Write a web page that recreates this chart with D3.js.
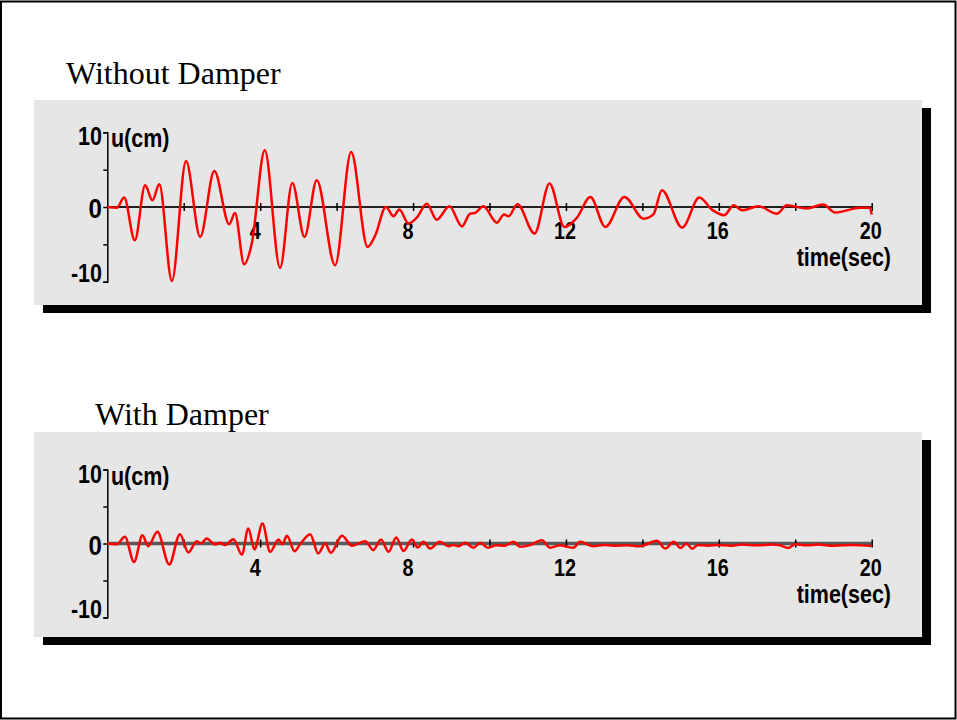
<!DOCTYPE html>
<html>
<head>
<meta charset="utf-8">
<script src="https://cdn.jsdelivr.net/npm/d3@7"></script>
<style>
  body { margin: 0; background: #fff; }
  svg { display: block; }
</style>
</head>
<body>
<div id="chart"></div>
<script>
// response without damper
const timeTop = [0, 0.25, 0.44, 0.72, 0.99, 1.18, 1.36, 1.69, 2.06, 2.43, 2.80, 3.19, 3.34, 3.58, 3.78,
  4.12, 4.52, 4.84, 5.16, 5.48, 5.96, 6.38, 6.81, 7.01, 7.29, 7.49, 7.64, 7.88, 8.10, 8.36, 8.62,
  8.95, 9.28, 9.49, 9.62, 9.84, 10.19, 10.38, 10.50, 10.73, 11.18, 11.57, 11.96, 12.29, 12.64,
  13.03, 13.53, 14.03, 14.29, 14.51, 15.04, 15.49, 15.82, 16.14, 16.39, 16.61, 17.04, 17.52,
  17.78, 18.30, 18.73, 19.05, 19.70, 19.95, 20.0];
const dispTop = [0, -0.1, 1.26, -4.46, 2.9, 0.9, 3.04, -9.9, 6.16, -4.0, 4.82, -2.3, -0.8, -7.67, -4.9,
  7.59, -8.16, 3.2, -4.0, 3.57, -7.8, 7.36, -5.35, -3.8, 0, -1.24, -0.35, -2.2, -1.4, 0.45, -1.7,
  0.1, -2.6, -0.9, -0.8, 0.1, -2.1, -1.0, -1.25, 0.36, -3.56, 3.13, -2.68, -1.42, 1.34,
  -2.68, 1.34, -1.56, -0.98, 2.24, -2.76, 1.26, -0.35, -1.1, 0.23, -0.44, 0.1, -0.9,
  0.23, -0.2, 0.32, -0.75, -0.1, -0.1, -1.0];

// response with damper
const timeBottom = [0, 0.25, 0.46, 0.70, 0.92, 1.07, 1.31, 1.62, 1.90, 2.12, 2.34, 2.45, 2.60, 2.82, 2.95,
  3.08, 3.30, 3.52, 3.69, 3.85, 4.06, 4.26, 4.48, 4.58, 4.70, 4.90, 5.04, 5.31, 5.52, 5.70, 5.85,
  6.14, 6.40, 6.75, 6.96, 7.16, 7.36, 7.56, 7.75, 7.97, 8.12, 8.27, 8.45, 8.69, 8.93, 9.05, 9.19,
  9.36, 9.58, 9.76, 9.96, 10.19, 10.40, 10.63, 10.80, 11.06, 11.37, 11.59, 11.85, 12.00, 12.20,
  12.37, 12.72, 13.00, 13.25, 13.60, 13.94, 14.38, 14.60, 14.82, 15.0, 15.15, 15.3, 15.45, 15.7,
  16.0, 16.3, 16.6, 17.0, 17.4, 17.6, 17.82, 18.0, 18.3, 18.6, 19.0, 19.5, 20.0];
const dispBottom = [0, -0.1, 0.9, -2.5, 1.13, -0.36, 1.58, -2.84, 1.26, -1.2, 0.3, 0, 0.68, -0.14, 0.1,
  -0.2, 0.59, -1.5, 2.03, -0.8, 2.7, -1.13, 0.54, -0.1, 1.04, -1.04, -0.14, 1.26, -1.35, 0.0, -1.26,
  1.04, -0.3, 0.3, -0.9, 0.54, -1.13, 0.81, -1.0, 0.54, -0.54, 0.22, -0.68, 0.22, -0.36, -0.2, -0.36,
  0.1, -0.58, 0.1, -0.58, -0.22, -0.3, 0.22, -0.45, -0.22, 0.45, -0.58, -0.22, -0.4, -0.58,
  0.22, -0.36, -0.2, -0.3, -0.22, -0.36, 0.36, -0.68, 0.22, -0.6, 0.0, -0.7, -0.2, -0.3,
  -0.2, -0.3, -0.15, -0.25, -0.15, -0.25, -0.6, -0.1, -0.25, -0.15, -0.3, -0.2, -0.35];

const xMinorTicks = [2, 4, 6, 8, 10, 12, 14, 16, 18, 20];
const xTickLabels = [4, 8, 12, 16, 20];
const yTicks = [-10, -5, 0, 5, 10];
const yTickLabels = [10, 0, -10];

const width = 957, height = 720;

const svg = d3.select("#chart")
  .append("svg")
  .attr("width", width)
  .attr("height", height);

// page frame
svg.append("rect")
  .attr("x", 1).attr("y", 1.5)
  .attr("width", width - 2.5).attr("height", height - 3)
  .attr("fill", "none")
  .attr("stroke", "#000")
  .attr("stroke-width", 2);

const sans = "'Liberation Sans', Arial, sans-serif";
const squeeze = "scale(0.86,1)";

function drawPanel(opt) {
  const g = svg.append("g");

  // drop shadow + grey box
  g.append("rect")
    .attr("x", opt.boxX + 9).attr("y", opt.boxY + 8)
    .attr("width", 888).attr("height", 205)
    .attr("fill", "#000");
  g.append("rect")
    .attr("x", opt.boxX).attr("y", opt.boxY)
    .attr("width", 888).attr("height", 205)
    .attr("fill", "#e6e6e6");

  // title
  svg.append("text")
    .attr("x", opt.titleX).attr("y", opt.titleY)
    .attr("font-family", "'Liberation Serif', 'Times New Roman', serif")
    .attr("font-size", 32)
    .attr("fill", "#000")
    .text(opt.title);

  const x = d3.scaleLinear().domain([0, 20]).range([107.3, 871.7]);
  const y = d3.scaleLinear().domain([-10, 10]).range(opt.yRange);
  const zero = y(0);

  // y axis, bracket shape comes from the outer ticks
  const yAxis = g.append("g")
    .attr("transform", `translate(${x(0)},0)`)
    .call(d3.axisLeft(y).tickValues(yTicks).tickSize(4).tickSizeOuter(4).tickFormat(""));
  yAxis.select(".domain").attr("stroke", "#000").attr("stroke-width", 1.5);
  yAxis.selectAll(".tick line").attr("stroke", "#000").attr("stroke-width", 1.5);

  // zero line
  g.append("line")
    .attr("x1", x(0)).attr("x2", x(20))
    .attr("y1", zero).attr("y2", zero)
    .attr("stroke", opt.zeroColor)
    .attr("stroke-width", opt.zeroWidth);

  // small ticks crossing the time axis
  const xAxis = g.append("g")
    .attr("transform", `translate(0,${zero - 4})`)
    .call(d3.axisBottom(x).tickValues(xMinorTicks).tickSize(8).tickFormat(""));
  xAxis.select(".domain").remove();
  xAxis.selectAll(".tick line").attr("stroke", "#000").attr("stroke-width", 1.5);

  // time labels
  g.selectAll(".xlab")
    .data(xTickLabels)
    .enter()
    .append("text")
    .attr("class", "xlab")
    .attr("transform", (d) => `translate(${x(d) - (d < 10 ? 5 : 1)},${zero + 32}) ${squeeze}`)
    .attr("text-anchor", "middle")
    .attr("font-family", sans)
    .attr("font-weight", "bold")
    .attr("font-size", 23)
    .text((d) => d);

  // displacement labels
  g.selectAll(".ylab")
    .data(yTickLabels)
    .enter()
    .append("text")
    .attr("class", "ylab")
    .attr("transform", (d) => {
      const dy = d === 10 ? 13 : d === 0 ? 11 : 0;
      return `translate(102,${y(d) + dy}) ${squeeze}`;
    })
    .attr("text-anchor", "end")
    .attr("font-family", sans)
    .attr("font-weight", "bold")
    .attr("font-size", (d) => (d === 0 ? 28 : 25))
    .text((d) => d);

  g.append("text")
    .attr("transform", `translate(111,${y(10) + 15}) ${squeeze}`)
    .attr("font-family", sans)
    .attr("font-weight", "bold")
    .attr("font-size", 25)
    .text("u(cm)");

  g.append("text")
    .attr("transform", `translate(891,${zero + 59}) ${squeeze}`)
    .attr("text-anchor", "end")
    .attr("font-family", sans)
    .attr("font-weight", "bold")
    .attr("font-size", 25)
    .text("time(sec)");

  const line = d3.line()
    .x((d) => x(d[0]))
    .y((d) => y(d[1]))
    .curve(d3.curveMonotoneX);

  g.append("path")
    .datum(d3.zip(opt.times, opt.values))
    .attr("d", line)
    .attr("fill", "none")
    .attr("stroke", "#ff0000")
    .attr("stroke-width", 2.5)
    .attr("stroke-linejoin", "round");
}

drawPanel({
  title: "Without Damper", titleX: 66, titleY: 84,
  boxX: 34, boxY: 100,
  yRange: [281.7, 132.3],
  zeroColor: "#222", zeroWidth: 2.2,
  times: timeTop, values: dispTop
});

drawPanel({
  title: "With Damper", titleX: 95, titleY: 425,
  boxX: 34, boxY: 432,
  yRange: [617.5, 469.5],
  zeroColor: "#5a5a5a", zeroWidth: 3.5,
  times: timeBottom, values: dispBottom
});
</script>
</body>
</html>
